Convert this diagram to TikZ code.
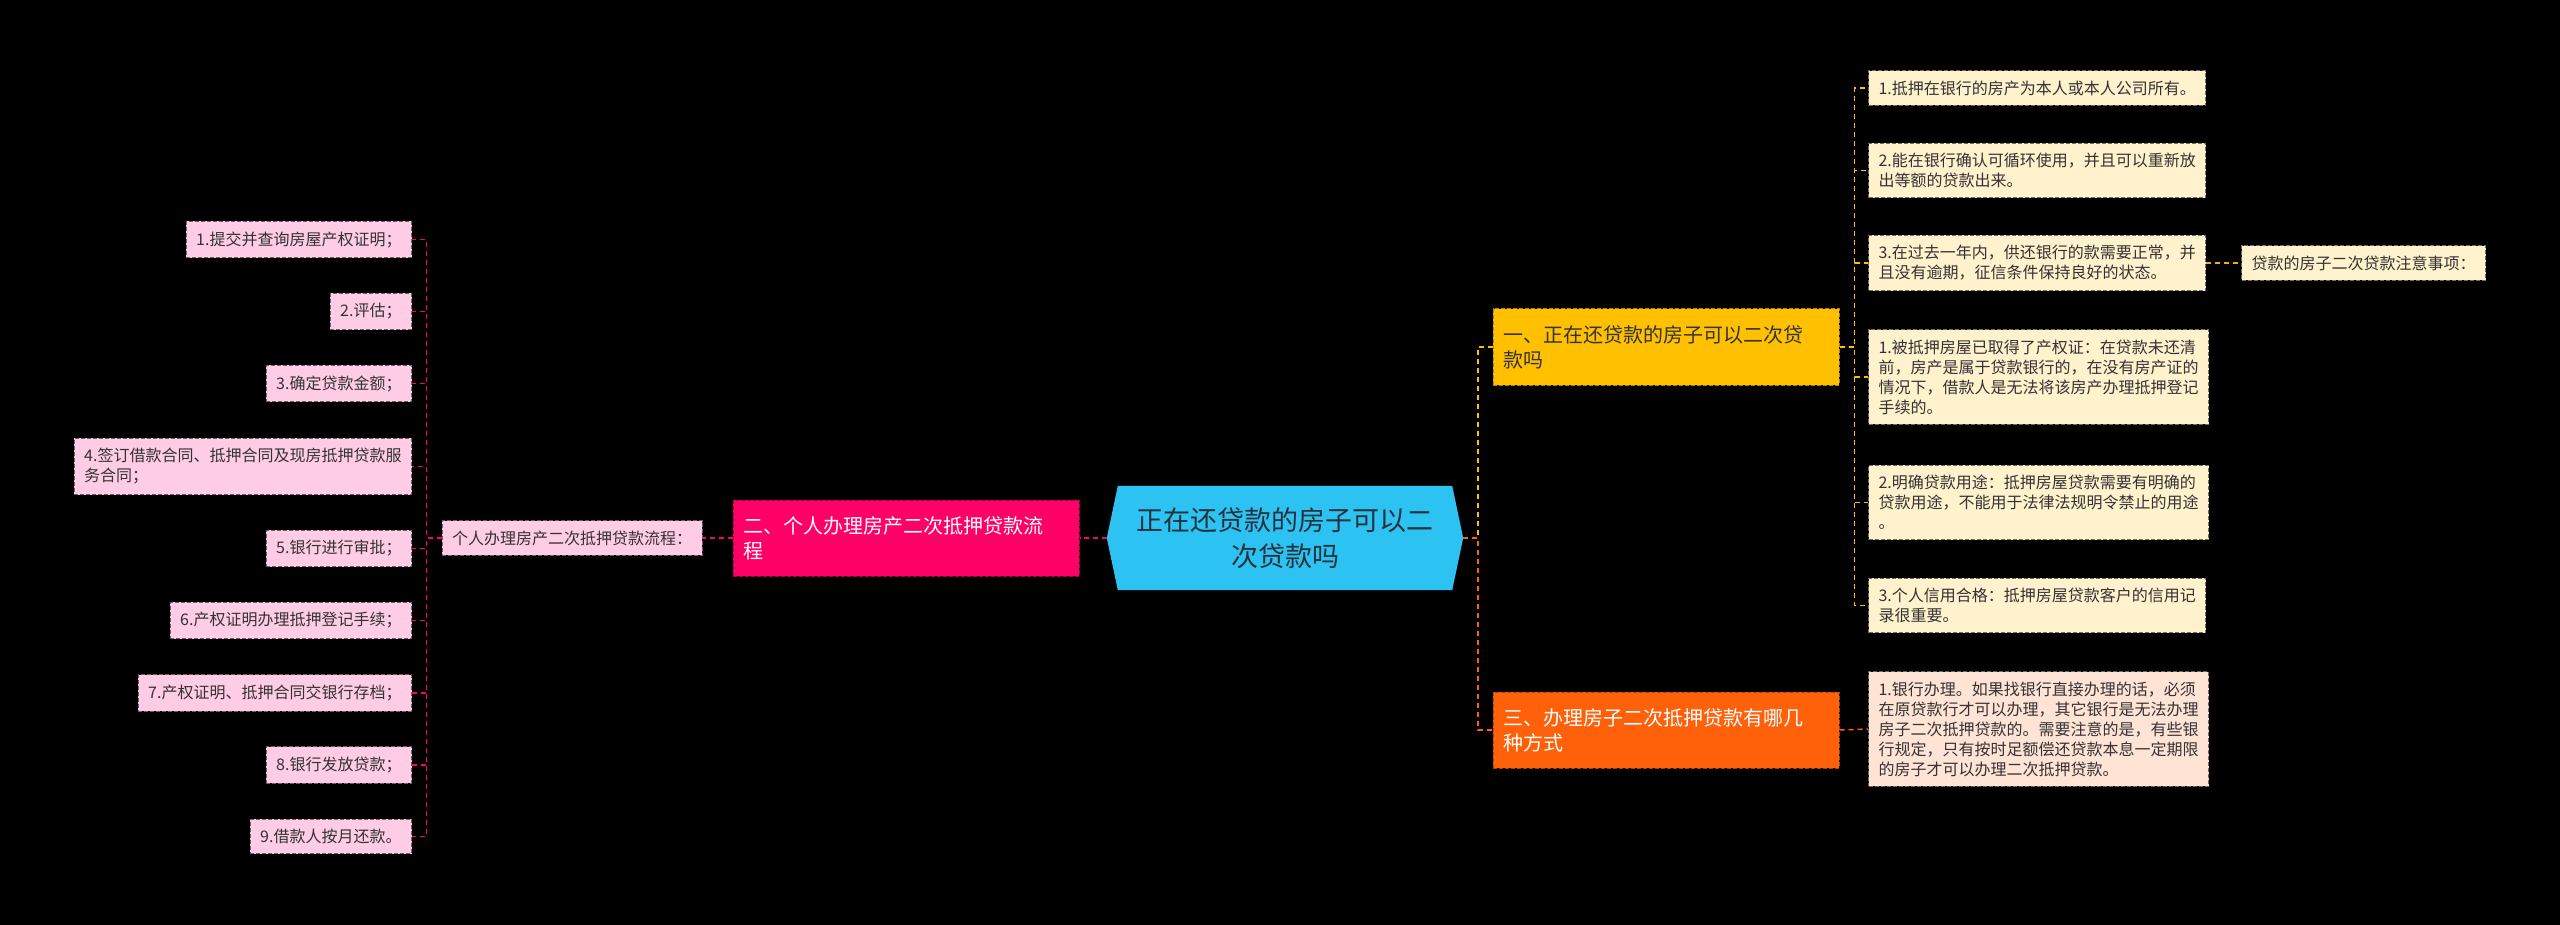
\documentclass[tikz,border=0pt]{standalone}
\usepackage{fontspec}
\setmainfont{Noto Sans CJK SC}
\usepackage{tikz}
\usetikzlibrary{positioning,calc,backgrounds}

\definecolor{rootblue}{RGB}{44,195,242}
\definecolor{roottext}{RGB}{36,50,62}
\definecolor{ylw}{RGB}{255,192,0}
\definecolor{pnk}{RGB}{255,0,102}
\definecolor{org}{RGB}{255,96,10}
\definecolor{cream}{RGB}{255,242,204}
\definecolor{peach}{RGB}{255,228,214}
\definecolor{lpink}{RGB}{255,204,229}
\definecolor{leaftext}{RGB}{51,51,51}

\begin{document}
\begin{tikzpicture}[x=1pt,y=-1pt,
    root/.style={align=center,minimum width=356pt,minimum height=104pt,text=roottext,
      font=\fontsize{27}{36}\selectfont},
    topic/.style={draw=#1!70!black,fill=#1,line width=1pt,dash pattern=on 4pt off 2pt,
      text width=326pt,align=left,inner xsep=10pt,inner ysep=13pt,minimum height=76pt,
      font=\fontsize{20}{25}\selectfont},
    leaf/.style={draw=#1!45!black,fill=#1,line width=1pt,dash pattern=on 4pt off 2pt,
      align=left,inner xsep=10pt,inner ysep=10pt,text=leaftext,
      font=\fontsize{16}{20}\selectfont},
    link/.style={draw=#1,line width=1.5pt,dash pattern=on 5pt off 4pt}]

  % centre
  \node[root] (root) at (1285,538) {正在还贷款的房子可以二\\次贷款吗};

  % main topics
  \node[topic=ylw,text=leaftext] (br1) at (1666,347) {一、正在还贷款的房子可以二次贷\\款吗};
  \node[topic=pnk,text=white] (br2) at (906,538) {二、个人办理房产二次抵押贷款流\\程};
  \node[topic=org,text=white] (br3) at (1666,730) {三、办理房子二次抵押贷款有哪几\\种方式};

  % right side
  \node[leaf=cream,anchor=west] (r1) at (1868,88) {1.抵押在银行的房产为本人或本人公司所有。};
  \node[leaf=cream,anchor=west] (r2) at (1868,170.5) {2.能在银行确认可循环使用，并且可以重新放\\出等额的贷款出来。};
  \node[leaf=cream,anchor=west] (r3) at (1868,263) {3.在过去一年内，供还银行的款需要正常，并\\且没有逾期，征信条件保持良好的状态。};
  \node[leaf=cream,anchor=west] (rc) at (2241,263) {贷款的房子二次贷款注意事项：};
  \node[leaf=cream,anchor=west] (r4) at (1868,377) {1.被抵押房屋已取得了产权证：在贷款未还清\\前，房产是属于贷款银行的，在没有房产证的\\情况下，借款人是无法将该房产办理抵押登记\\手续的。};
  \node[leaf=cream,anchor=west] (r5) at (1868,502.5) {2.明确贷款用途：抵押房屋贷款需要有明确的\\贷款用途，不能用于法律法规明令禁止的用途\\。};
  \node[leaf=cream,anchor=west] (r6) at (1868,605.5) {3.个人信用合格：抵押房屋贷款客户的信用记\\录很重要。};
  \node[leaf=peach,anchor=west] (o1) at (1868,729) {1.银行办理。如果找银行直接办理的话，必须\\在原贷款行才可以办理，其它银行是无法办理\\房子二次抵押贷款的。需要注意的是，有些银\\行规定，只有按时足额偿还贷款本息一定期限\\的房子才可以办理二次抵押贷款。};

  % left side
  \node[leaf=lpink,left=30pt of br2] (sub) {个人办理房产二次抵押贷款流程：};
  \node[leaf=lpink,anchor=east] (l1) at (412,239.5) {1.提交并查询房屋产权证明；};
  \node[leaf=lpink,anchor=east] (l2) at (412,311.5) {2.评估；};
  \node[leaf=lpink,anchor=east] (l3) at (412,383.5) {3.确定贷款金额；};
  \node[leaf=lpink,anchor=east] (l4) at (412,466.5) {4.签订借款合同、抵押合同及现房抵押贷款服\\务合同；};
  \node[leaf=lpink,anchor=east] (l5) at (412,548.5) {5.银行进行审批；};
  \node[leaf=lpink,anchor=east] (l6) at (412,620.5) {6.产权证明办理抵押登记手续；};
  \node[leaf=lpink,anchor=east] (l7) at (412,693) {7.产权证明、抵押合同交银行存档；};
  \node[leaf=lpink,anchor=east] (l8) at (412,765) {8.银行发放贷款；};
  \node[leaf=lpink,anchor=east] (l9) at (412,836.5) {9.借款人按月还款。};

  % connectors
  \draw[link=ylw] (root.east) -- ++(15,0) |- (br1.west);
  \draw[link=org] (root.east) -- ++(15,0) |- (br3.west);
  \draw[link=pnk] (root.west) -- (br2.east);
  \draw[link=pnk] (br2.west) -- (sub.east);
  \foreach \n in {r1,r2,r3,r4,r5,r6}
    \draw[link=ylw] (br1.east) -- ++(15,0) |- (\n.west);
  \draw[link=ylw!75!brown] (r3.east) -- (rc.west);
  \draw[link=org] (br3.east) -- (o1.west);
  \foreach \n in {l1,l2,l3,l4,l5,l6,l7,l8,l9}
    \draw[link=pnk] (sub.west) -- ++(-15,0) |- (\n.east);

  \begin{scope}[on background layer]
    \fill[black] (0,0) rectangle (2560,925);
    \fill[rootblue] (root.west) -- ($(root.north west)+(11,0)$) -- ($(root.north east)+(-11,0)$)
      -- (root.east) -- ($(root.south east)+(-11,0)$) -- ($(root.south west)+(11,0)$) -- cycle;
  \end{scope}
  \useasboundingbox (0,0) rectangle (2560,925);
\end{tikzpicture}
\end{document}
